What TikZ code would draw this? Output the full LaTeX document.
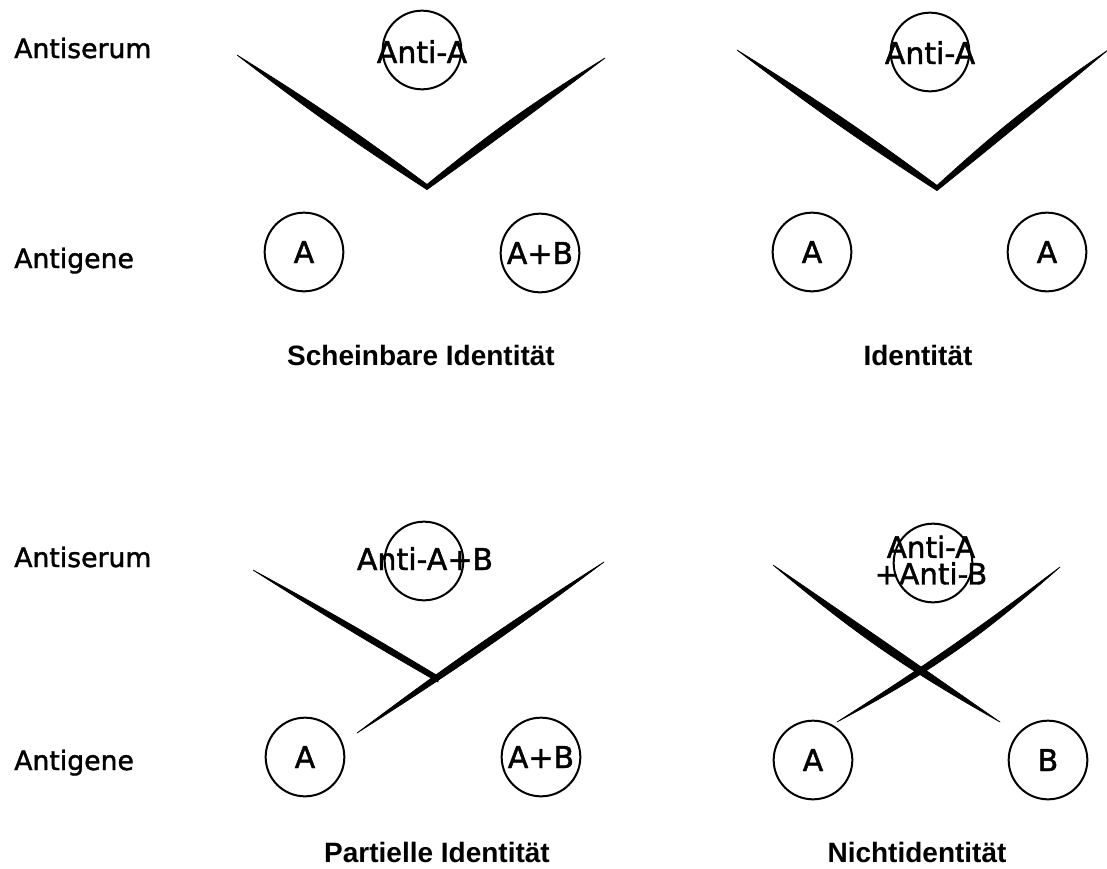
\documentclass[tikz,border=0pt]{standalone}
\usepackage{fontspec}
\setmainfont{DejaVu Sans}[FakeBold=1.5]
\newfontfamily\captionfont{Liberation Sans}
\usetikzlibrary{calc}

\tikzset{
  sweep/.style={out={#1}, in={180-(#1)}, relative},
  well/.style={circle, draw, line width=1.5pt, minimum size=59pt, inner sep=0pt},
  welltext/.style={anchor=base, inner sep=0pt, font=\fontsize{22.5}{20}\selectfont},
  rowlabel/.style={anchor=base west, inner sep=0pt, font=\fontsize{20}{24}\selectfont},
  captiontext/.style={anchor=base, inner sep=0pt, font=\captionfont\bfseries\fontsize{21}{25}\selectfont},
  band/.style={fill=black, draw=black, line width=0.5pt, line join=round},
}

% spindle-shaped precipitation line from #1 to #2;
% #3 = bow of the centre line (degrees, + to the left), #4 = half thickness (degrees)
\newcommand{\lensband}[4]{%
  \pgfmathsetmacro\lensOut{#3+#4}%
  \pgfmathsetmacro\lensBack{#4-(#3)}%
  \fill[band] (#1) to[sweep=\lensOut] (#2) to[sweep=\lensBack] (#1) -- cycle;}

% V-shaped line: tips #1 and #3, apex #2;
% #4,#5 = outer/inner sweep of left arm, #6,#7 = outer/inner sweep of right arm
\newcommand{\vband}[7]{%
  \fill[band] (#1) to[sweep=#4] ($(#2)+(0,-2.6)$) to[sweep=#6] (#3)
              to[sweep=#7] ($(#2)+(0,2.6)$) to[sweep=#5] (#1) -- cycle;}

\begin{document}
\begin{tikzpicture}[x=0.75pt,y=0.75pt]
\useasboundingbox (0,0) rectangle (1107,-868);

% row labels
\node[rowlabel] (lblS1) at (14,-58) {Antiserum};
\node[rowlabel] (lblG1) at (14,-268) {Antigene};
\node[rowlabel] (lblS2) at (14,-567) {Antiserum};
\node[rowlabel] (lblG2) at (14,-770) {Antigene};

% ---------- Scheinbare Identitaet ----------
\node[well] (s1) at (422,-50) {};
\node[well] (gA1) at (304,-252) {};
\node[well] (gAB1) at (540,-253) {};
\node[welltext] (s1t) at (422,-63) {Anti-A};
\node[welltext] (gA1t) at (304,-263) {A};
\node[welltext] (gAB1t) at (540,-264) {A+B};
\coordinate (v1L) at (237,-55);
\coordinate (v1V) at (427,-187);
\coordinate (v1R) at (605,-58);
\vband{v1L}{v1V}{v1R}{-2.3}{-2.3}{-0.8}{-3.8}
\node[captiontext] (c1) at (421,-365) {Scheinbare Identität};

% ---------- Identitaet ----------
\node[well] (s2) at (930,-52) {};
\node[well] (gA2) at (812,-252) {};
\node[well] (gA3) at (1047,-252) {};
\node[welltext] (s2t) at (930,-64) {Anti-A};
\node[welltext] (gA2t) at (812,-263) {A};
\node[welltext] (gA3t) at (1047,-263) {A};
\coordinate (v2L) at (737,-50);
\coordinate (v2V) at (937,-188);
\coordinate (v2R) at (1108,-50);
\vband{v2L}{v2V}{v2R}{-2.3}{-2.3}{-0.6}{-4.0}
\node[captiontext] (c2) at (918,-365) {Identität};

% ---------- Partielle Identitaet ----------
\node[well] (s3) at (424,-561) {};
\node[well] (gA4) at (305,-757) {};
\node[well] (gAB2) at (541,-757) {};
\node[welltext] (s3t) at (425,-570) {Anti-A+B};
\node[welltext] (gA4t) at (305,-768) {A};
\node[welltext] (gAB2t) at (541,-768) {A+B};
\coordinate (spurTip) at (253,-570);
\coordinate (spurEnd) at (438,-679);
\coordinate (longA) at (357,-733);
\coordinate (longB) at (604,-562);
\lensband{longA}{longB}{0}{2.2}
\fill[band] (spurTip) to[sweep=-1.3] ($(spurEnd)+(0,-3)$) -- ($(spurEnd)+(0,3)$)
            to[sweep=-1.3] (spurTip) -- cycle;
\node[captiontext] (c3) at (437,-862) {Partielle Identität};

% ---------- Nichtidentitaet ----------
\node[well] (s4) at (933,-563) {};
\node[well] (gA5) at (813,-760) {};
\node[well] (gB) at (1048,-760) {};
\node[inner sep=0pt, align=center, font=\fontsize{22}{20}\selectfont] (s4t) at (931,-560) {Anti-A\\+Anti-B};
\node[welltext] (gA5t) at (813,-771) {A};
\node[welltext] (gBt) at (1048,-771) {B};
\coordinate (x1A) at (773,-565);
\coordinate (x1B) at (1000,-722);
\coordinate (x2A) at (837,-722);
\coordinate (x2B) at (1060,-567);
\lensband{x1A}{x1B}{-2.5}{2.8}
\lensband{x2A}{x2B}{-4.5}{2.3}
\node[captiontext] (c4) at (917,-862) {Nichtidentität};
\end{tikzpicture}
\end{document}
